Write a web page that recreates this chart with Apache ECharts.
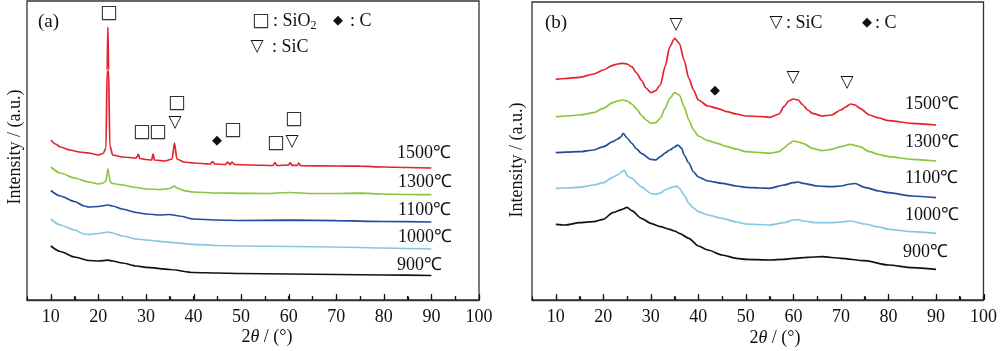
<!DOCTYPE html>
<html>
<head>
<meta charset="utf-8">
<script src="https://cdn.jsdelivr.net/npm/echarts@6/dist/echarts.min.js"></script>
<style>html,body{margin:0;padding:0;background:#fff}#c{width:1000px;height:351px}</style>
</head>
<body>
<div id="c"></div>
<script>
// ---------- data: panel (a) ----------
const aRedX = [10,11,12,14,16,18,20,21,21.6,21.85,22,22.15,22.4,23,25,28,28.4,28.7,30,31.2,31.5,31.8,34,35.5,36,36.5,38,40,43.5,44,44.5,46.7,47.2,47.7,48.1,48.6,52,56.7,57.1,57.5,60,60.3,60.7,61.8,62.1,62.5,70,75,80,85,90];
const aRedY = [160,156,153,150,148,147,145,146.5,152,230,273,230,155,145,143,142,146,141.5,140.5,140,146,140,139,141,157,141,138,137,136,138.5,136,135.5,138,135.5,138,135.5,135,134.5,137.5,134.5,135,137.5,134.7,134.5,137,134.3,134,133.8,133,132.5,132];
const aGreenX = [10,12,15,18,20,21,21.6,21.9,22,22.2,22.5,23,25,28,30,33,35,36,36.5,38,40,45,50,55,60,65,70,75,80,85,90];
const aGreenY = [133,127,122,118,116,117,119,128,131,126,118,116.5,115,112.5,111,110.5,111.5,114,112,109.3,108,107,106.7,106.5,107.5,106.5,106.5,106.8,106,105.5,105.3];
const aBlueX = [10,12,15,17,18,20,22,23,25,28,30,33,35,37,40,45,50,60,70,80,90];
const aBlueY = [109.5,104,98.5,94,93,93.5,95,94,91,87.5,86,85,85.5,84,81,80,79.5,79.8,79.3,78.5,78];
const aLightX = [10,12,15,17,18,20,22,23,25,28,30,35,40,45,50,60,70,80,90];
const aLightY = [81,75,70,66,65.5,66.5,68,67,64,61,60,57.7,55.7,54.5,54,53.5,53,52,51];
const aBlackX = [10,12,15,18,20,22,23,25,28,30,35,40,45,50,60,70,80,90];
const aBlackY = [54,48.5,43,39.5,39,39.8,39,37,34,32.7,30.5,27.5,27,26.5,26,25.5,25,24.5,24];

// ---------- data: panel (b) ----------
const bRedX = [10,12,15,18,20,22,23,24,25,26,27,28,29,30,31,32,33,34,35,36,37,38,39,40,42,44,46,48,50,53,55,57,58,59,60,61,62,63,64,66,68,70,71,72,73,74,76,78,80,85,90];
const bRedY = [220.7,221.5,222.7,226,230,234.7,236,236.7,236,233.3,227,220,212,207.3,209.3,215,233.3,253.3,261.7,256.7,240,221.7,210,200,194,191.7,188.3,186,184,183.5,182.7,186,193.3,199,201,200,195,190,186.7,184,185,190,193,196,195,191.7,185,182,179.3,176.7,175];
const bGreenX = [10,12,15,18,20,22,23,24,25,26,27,28,29,30,31,32,33,34,35,36,37,38,39,40,42,44,46,48,50,53,55,57,58,59,60,61,62,64,66,68,70,72,74,76,78,80,85,90];
const bGreenY = [183.3,184,185,187.3,191.7,197.3,199,200,199,196,191,185,180,176.7,177.3,181.7,191.7,201.7,207.3,205,193.3,180,170,164,159.3,156.7,153.3,151,148.3,147.5,146.7,148.3,152,156,159,158,156.7,151.7,149.3,150.7,153.3,155.7,153.3,148.3,145.5,143.3,140.7,139];
const bBlueX = [10,12,15,18,20,22,23,23.7,24.2,25,26,27,28,30,31,32,33,34,35,35.7,36.5,37,38,39,40,42,45,48,50,53,55,58,60,61,62,65,68,70,72,73,75,78,80,85,90];
const bBlueY = [147.3,147.8,148.3,150,153.3,158.3,161,163,166.7,162,156.7,151,146.7,140.7,140,143.3,147,150,153,155,151.7,145,137,128,123,119,116.7,114,112.7,112,111.7,115,117.3,118,116.7,114,113.3,114,116,116.5,112.7,109,107.3,104,102.3];
const bLightX = [10,12,15,18,20,22,23,24,24.5,25,26,28,30,31,32,33,34,35,35.5,36,37,38,39,40,42,45,48,50,53,55,58,60,61,62,65,68,70,72,75,78,80,85,90];
const bLightY = [111.7,112,112.7,115,117.3,122.7,125,128.5,130,124,121.7,113.3,106.7,105.7,107,110,112,113.3,114,111.7,105,96.7,92,88.3,85,81.7,78,76,75.5,75,77.3,80,80.5,79,77.3,77.3,78,79,76,73,70.7,68.3,66.7];
const bBlackX = [10,12,15,18,20,22,24,25,26,28,30,32,34,35,36,38,40,42,45,48,50,55,58,60,63,66,70,75,80,85,90];
const bBlackY = [75.7,75,77.3,78.3,80.7,87.3,90.7,92.7,89.3,81.7,76.7,73.3,70.7,69,66.7,61.7,54,50,45,41.7,40.7,40,40.7,41.7,42.7,43.3,41.7,39.3,35,32.3,30.7];

const majorTicks = [10,20,30,40,50,60,70,80,90,100];
const minorTicks = [5,15,25,35,45,55,65,75,85,95];
const tempLabels = ['1500℃','1300℃','1100℃','1000℃','900℃'];

// ---------- styling ----------
const colors = ['#e3222b','#8cc43c','#1f4c9b','#87c6e2','#111111'];
const serif = '"Liberation Serif","Times New Roman",serif';
const sym = '"DejaVu Sans",sans-serif';
const zip = (xs, ys) => xs.map((x, i) => [x, ys[i]]);

function xAx(grid) {
  return {
    type: 'value', gridIndex: grid, min: 5, max: 100, interval: 5, position: 'bottom',
    axisLine: { show: true, onZero: false, lineStyle: { color: '#333', width: 1.3 } },
    axisTick: { show: true, inside: true, length: 4, lineStyle: { color: '#222', width: 1.2 } },
    axisLabel: { show: true, margin: 8, fontFamily: serif, fontSize: 18, color: '#111',
      showMinLabel: false, formatter: v => (v % 10 === 0 ? String(v) : '') },
    splitLine: { show: false }
  };
}
function yAx(grid, max) {
  return {
    type: 'value', gridIndex: grid, min: 0, max: max,
    axisLine: { show: false }, axisTick: { show: false }, axisLabel: { show: false }, splitLine: { show: false }
  };
}
function line(xi, yi, xs, ys, color) {
  return {
    type: 'line', xAxisIndex: xi, yAxisIndex: yi, data: zip(xs, ys),
    showSymbol: false, symbol: 'none', smooth: 0.25, smoothMonotone: 'x',
    lineStyle: { color: color, width: 1.7 }, silent: true, animation: false
  };
}
function txt(x, y, text, o) {
  o = o || {};
  return {
    type: 'text', x: x, y: y, rotation: o.rot || 0, silent: true, z: 10,
    style: {
      text: text, fill: o.color || '#111', font: (o.size || 18) + 'px ' + (o.font || serif),
      textAlign: o.align || 'left', textVerticalAlign: 'middle', rich: o.rich
    }
  };
}

const chart = echarts.init(document.getElementById('c'), null, { renderer: 'canvas' });
const graphics = [
  txt(38, 22, '(a)', { size: 19 }),
  txt(545, 23, '(b)', { size: 19 }),
  txt(15, 147, 'Intensity / (a.u.)', { align: 'center', rot: Math.PI / 2 }),
  txt(517, 160, 'Intensity / (a.u.)', { align: 'center', rot: Math.PI / 2 }),
  { type: 'text', x: 267, y: 337, silent: true, style: { text: '2{i|θ} / (°)', font: '18px ' + serif, fill: '#111', textAlign: 'center', textVerticalAlign: 'middle', rich: { i: { fontStyle: 'italic', fontFamily: serif, fontSize: 18 } } } },
  { type: 'text', x: 775, y: 338, silent: true, style: { text: '2{i|θ} / (°)', font: '18px ' + serif, fill: '#111', textAlign: 'center', textVerticalAlign: 'middle', rich: { i: { fontStyle: 'italic', fontFamily: serif, fontSize: 18 } } } },
  txt(261, 21, '□', { font: sym, size: 19, align: 'center', color: '#333' }),
  { type: 'text', x: 273, y: 21, silent: true, style: { text: ': SiO{s|2}', font: '18px ' + serif, fill: '#111', textAlign: 'left', textVerticalAlign: 'middle', rich: { s: { fontSize: 12, fontFamily: serif, padding: [10, 0, 0, 0] } } } },
  txt(338, 21, '◆', { font: sym, size: 13, align: 'center' }),
  txt(350, 21, ': C'),
  txt(257, 47, '▽', { font: sym, size: 17, align: 'center' }),
  txt(272, 47, ': SiC'),
  txt(776, 23, '▽', { font: sym, size: 17, align: 'center' }),
  txt(786, 23, ': SiC'),
  txt(867, 23, '◆', { font: sym, size: 13, align: 'center' }),
  txt(875, 23, ': C'),
  txt(109, 13, '□', { font: sym, size: 19, align: 'center', color: '#333' }),
  txt(142, 132, '□', { font: sym, size: 19, align: 'center', color: '#333' }),
  txt(158, 132, '□', { font: sym, size: 19, align: 'center', color: '#333' }),
  txt(177, 103, '□', { font: sym, size: 19, align: 'center', color: '#333' }),
  txt(175, 123, '▽', { font: sym, size: 17, align: 'center' }),
  txt(217, 141, '◆', { font: sym, size: 13, align: 'center' }),
  txt(233, 130, '□', { font: sym, size: 19, align: 'center', color: '#333' }),
  txt(276, 143, '□', { font: sym, size: 19, align: 'center', color: '#333' }),
  txt(292, 142, '▽', { font: sym, size: 17, align: 'center' }),
  txt(294, 119, '□', { font: sym, size: 19, align: 'center', color: '#333' }),
  txt(676, 25, '▽', { font: sym, size: 17, align: 'center' }),
  txt(715, 91, '◆', { font: sym, size: 13, align: 'center' }),
  txt(793, 78, '▽', { font: sym, size: 17, align: 'center' }),
  txt(847, 83, '▽', { font: sym, size: 17, align: 'center' })
];
const aLabelPos = [[397,153],[398,182],[398,210],[398,237],[397,265]];
const bLabelPos = [[905,104],[905,142],[905,178],[905,215],[903,252]];
tempLabels.forEach((t, i) => {
  graphics.push(txt(aLabelPos[i][0], aLabelPos[i][1], t));
  graphics.push(txt(bLabelPos[i][0], bLabelPos[i][1], t));
});

chart.setOption({
  animation: false,
  backgroundColor: '#fff',
  grid: [
    { left: 27, top: 1, right: 521, bottom: 51, show: true, borderColor: '#333', borderWidth: 1.3, backgroundColor: 'transparent' },
    { left: 532, top: 2, right: 16, bottom: 51, show: true, borderColor: '#333', borderWidth: 1.3, backgroundColor: 'transparent' }
  ],
  xAxis: [xAx(0), xAx(1)],
  yAxis: [yAx(0, 299), yAx(1, 298)],
  series: [
    line(0, 0, aRedX, aRedY, colors[0]),
    line(0, 0, aGreenX, aGreenY, colors[1]),
    line(0, 0, aBlueX, aBlueY, colors[2]),
    line(0, 0, aLightX, aLightY, colors[3]),
    line(0, 0, aBlackX, aBlackY, colors[4]),
    line(1, 1, bRedX, bRedY, colors[0]),
    line(1, 1, bGreenX, bGreenY, colors[1]),
    line(1, 1, bBlueX, bBlueY, colors[2]),
    line(1, 1, bLightX, bLightY, colors[3]),
    line(1, 1, bBlackX, bBlackY, colors[4])
  ],
  graphic: graphics
});

// major/minor tick marks placed through the axis scales
const tickEls = [];
[0, 1].forEach(gi => {
  const yb = chart.convertToPixel({ yAxisIndex: gi }, 0);
  const addTicks = (vals, len) => vals.forEach(v => {
    const px = Math.round(chart.convertToPixel({ xAxisIndex: gi }, v)) + 0.5;
    tickEls.push({ type: 'line', silent: true, z: 50,
      shape: { x1: px, y1: yb, x2: px, y2: yb - len },
      style: { stroke: '#111', lineWidth: 1.2 } });
  });
  addTicks(majorTicks, 6);
  addTicks(minorTicks, 3.5);
});
chart.setOption({ graphic: graphics.concat(tickEls) });
</script>
</body>
</html>
